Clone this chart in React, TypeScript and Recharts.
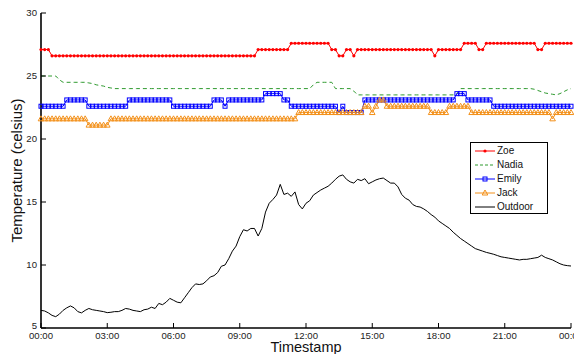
import { LineChart, Line, XAxis, YAxis, Legend, Label } from 'recharts';

// one reading every 10 minutes, 00:00 .. 24:00 (145 points)
const zoe = [
  27.1, 27.1, 27.1, 26.6, 26.6, 26.6, 26.6, 26.6, 26.6, 26.6, 26.6, 26.6,
  26.6, 26.6, 26.6, 26.6, 26.6, 26.6, 26.6, 26.6, 26.6, 26.6, 26.6, 26.6,
  26.6, 26.6, 26.6, 26.6, 26.6, 26.6, 26.6, 26.6, 26.6, 26.6, 26.6, 26.6,
  26.6, 26.6, 26.6, 26.6, 26.6, 26.6, 26.6, 26.6, 26.6, 26.6, 26.6, 26.6,
  26.6, 26.6, 26.6, 26.6, 26.6, 26.6, 26.6, 26.6, 26.6, 26.6, 26.6, 27.1,
  27.1, 27.1, 27.1, 27.1, 27.1, 27.1, 27.1, 27.1, 27.6, 27.6, 27.6, 27.6,
  27.6, 27.6, 27.6, 27.6, 27.6, 27.6, 27.6, 27.1, 27.1, 26.6, 26.6, 27.1,
  27.1, 26.6, 27.1, 27.1, 27.1, 27.1, 27.1, 27.1, 27.1, 27.1, 27.1, 27.1,
  27.1, 27.1, 27.1, 27.1, 27.1, 27.1, 27.1, 27.1, 27.1, 27.1, 27.1, 26.6,
  27.1, 27.1, 27.1, 27.1, 27.1, 27.1, 27.1, 27.6, 27.6, 27.6, 27.6, 27.1,
  27.1, 27.6, 27.6, 27.6, 27.6, 27.6, 27.6, 27.6, 27.6, 27.6, 27.6, 27.6,
  27.6, 27.6, 27.6, 27.1, 27.1, 27.6, 27.6, 27.6, 27.6, 27.6, 27.6, 27.6,
  27.6,
];

const nadia = [
  25.0, 25.0, 25.0, 25.0, 25.0, 24.7, 24.5, 24.5, 24.5, 24.5, 24.5, 24.5,
  24.5, 24.45, 24.4, 24.3, 24.25, 24.2, 24.1, 24.05, 24.0, 24.0, 24.0, 24.0,
  24.0, 24.0, 24.0, 24.0, 24.0, 24.0, 24.0, 24.0, 24.0, 24.0, 24.0, 24.0,
  24.0, 24.0, 24.0, 24.0, 24.0, 24.0, 24.0, 24.0, 24.0, 24.0, 24.0, 24.0,
  24.0, 24.0, 24.0, 24.0, 24.0, 24.0, 24.0, 24.0, 24.0, 24.0, 24.0, 24.0,
  24.0, 24.0, 24.0, 24.0, 24.0, 24.0, 24.0, 24.0, 24.0, 24.0, 24.0, 24.0,
  24.0, 24.0, 24.3, 24.5, 24.5, 24.5, 24.5, 24.5, 24.0, 24.0, 24.0, 24.0,
  24.0, 23.8, 23.5, 23.5, 23.5, 23.5, 23.5, 23.5, 23.5, 23.5, 23.5, 23.5,
  23.5, 23.5, 23.5, 23.5, 23.5, 23.5, 23.5, 23.5, 23.5, 23.5, 23.5, 23.5,
  23.5, 23.5, 23.5, 23.5, 23.5, 23.6, 24.0, 24.0, 24.0, 24.0, 24.0, 24.0,
  24.0, 24.0, 24.0, 24.0, 24.0, 24.0, 24.0, 24.0, 24.0, 24.0, 24.0, 24.0,
  24.0, 24.0, 23.95, 23.85, 23.75, 23.65, 23.6, 23.55, 23.5, 23.6, 23.75, 23.9,
  24.0,
];

const emily = [
  22.6, 22.6, 22.6, 22.6, 22.6, 22.6, 22.6, 23.1, 23.1, 23.1, 23.1, 23.1,
  23.1, 22.6, 22.6, 22.6, 22.6, 22.6, 22.6, 22.6, 22.6, 22.6, 22.6, 22.6,
  23.1, 23.1, 23.1, 23.1, 23.1, 23.1, 23.1, 23.1, 23.1, 23.1, 23.1, 23.1,
  22.6, 22.6, 22.6, 22.6, 22.6, 22.6, 22.6, 22.6, 22.6, 22.6, 22.6, 23.1,
  23.1, 23.1, 22.6, 23.1, 23.1, 23.1, 23.1, 23.1, 23.1, 23.1, 23.1, 23.1,
  23.1, 23.6, 23.6, 23.6, 23.6, 23.6, 23.1, 23.1, 22.6, 22.6, 22.6, 22.6,
  22.6, 22.6, 22.6, 22.6, 22.6, 22.6, 22.6, 22.6, 22.6, 22.1, 22.6, 22.1,
  22.1, 22.1, 22.1, 22.1, 23.1, 23.1, 23.1, 23.1, 23.1, 23.1, 23.1, 23.1,
  23.1, 23.1, 23.1, 23.1, 23.1, 23.1, 23.1, 23.1, 23.1, 23.1, 23.1, 23.1,
  23.1, 23.1, 23.1, 23.1, 23.1, 23.6, 23.6, 23.6, 23.1, 23.1, 23.1, 23.1,
  23.1, 23.1, 23.1, 22.6, 22.6, 22.6, 22.6, 22.6, 22.6, 22.6, 22.6, 22.6,
  22.6, 22.6, 22.6, 22.6, 22.6, 22.6, 22.6, 22.6, 22.6, 22.6, 22.6, 22.6,
  22.6,
];

const jack = [
  21.6, 21.6, 21.6, 21.6, 21.6, 21.6, 21.6, 21.6, 21.6, 21.6, 21.6, 21.6,
  21.6, 21.1, 21.1, 21.1, 21.1, 21.1, 21.1, 21.6, 21.6, 21.6, 21.6, 21.6,
  21.6, 21.6, 21.6, 21.6, 21.6, 21.6, 21.6, 21.6, 21.6, 21.6, 21.6, 21.6,
  21.6, 21.6, 21.6, 21.6, 21.6, 21.6, 21.6, 21.6, 21.6, 21.6, 21.6, 21.6,
  21.6, 21.6, 21.6, 21.6, 21.6, 21.6, 21.6, 21.6, 21.6, 21.6, 21.6, 21.6,
  21.6, 21.6, 21.6, 21.6, 21.6, 21.6, 21.6, 21.6, 21.6, 21.6, 22.1, 22.1,
  22.1, 22.1, 22.1, 22.1, 22.1, 22.1, 22.1, 22.1, 22.1, 22.1, 22.1, 22.1,
  22.1, 22.1, 22.1, 22.1, 22.6, 22.6, 22.1, 22.6, 23.1, 23.1, 22.6, 22.6,
  22.6, 22.6, 22.6, 22.6, 22.6, 22.6, 22.6, 22.6, 22.6, 22.6, 22.1, 22.1,
  22.1, 22.1, 22.1, 22.6, 22.6, 22.6, 22.6, 22.6, 22.6, 22.1, 22.1, 22.1,
  22.1, 22.1, 22.1, 22.1, 22.1, 22.1, 22.1, 22.1, 22.1, 22.1, 22.1, 22.1,
  22.1, 22.1, 22.1, 22.1, 22.1, 22.1, 22.1, 21.6, 22.1, 22.1, 22.1, 22.1,
  22.1,
];

const outdoor = [
  6.4, 6.35, 6.2, 6.0, 5.9, 6.1, 6.4, 6.6, 6.75, 6.6, 6.3, 6.2,
  6.4, 6.55, 6.45, 6.4, 6.35, 6.3, 6.22, 6.25, 6.3, 6.3, 6.4, 6.55,
  6.5, 6.4, 6.35, 6.3, 6.45, 6.5, 6.65, 6.55, 6.95, 6.85, 7.05, 7.35,
  7.2, 7.05, 7.0, 7.4, 7.8, 8.2, 8.5, 8.45, 8.5, 8.75, 9.05, 9.15,
  9.4, 9.9, 10.0, 10.5, 11.1, 11.5, 12.25, 12.8, 12.7, 12.9, 12.9, 12.3,
  12.9, 14.2, 14.9, 15.2, 15.55, 16.4, 15.6, 15.7, 15.45, 15.8, 14.8, 14.45,
  14.9, 15.1, 15.55, 15.75, 15.95, 16.1, 16.25, 16.5, 16.8, 17.05, 17.15, 16.8,
  16.6, 16.5, 16.8, 16.7, 16.85, 16.45, 16.6, 16.75, 16.85, 16.9, 16.7, 16.5,
  16.5, 16.2, 15.6, 15.3, 15.15, 14.8, 14.65, 14.6, 14.45, 14.25, 14.0, 13.8,
  13.5, 13.3, 13.1, 12.9, 12.6, 12.35, 12.1, 11.9, 11.7, 11.5, 11.3, 11.2,
  11.1, 11.0, 10.93, 10.85, 10.75, 10.65, 10.6, 10.55, 10.5, 10.45, 10.4, 10.45,
  10.45, 10.5, 10.55, 10.6, 10.78, 10.6, 10.5, 10.4, 10.25, 10.1, 10.0, 9.95,
  9.92,
];

const xTicks = [0, 180, 360, 540, 720, 900, 1080, 1260, 1440];
const xTickLabels = ['00:00', '03:00', '06:00', '09:00', '12:00', '15:00', '18:00', '21:00', '00:00'];
const yTicks = [5, 10, 15, 20, 25, 30];

const data = zoe.map((v, i) => ({
  t: i * 10,
  zoe: v,
  nadia: nadia[i],
  emily: emily[i],
  jack: jack[i],
  outdoor: outdoor[i],
}));

const FONT = '"Liberation Sans", Arial, Helvetica, sans-serif';
const RED = '#ff0000';
const GREEN = '#2f9a2f';
const BLUE = '#0000ff';
const ORANGE = '#f39019';

const BottomTick = ({ x, y, index }: any) => (
  <g>
    <line x1={x} x2={x} y1={y} y2={y - 5} stroke='#000' />
    <text x={x} y={y + 10.5} textAnchor='middle' fontSize={9.6} fontFamily={FONT} fill='#222'>
      {xTickLabels[index]}
    </text>
  </g>
);

const TopTick = ({ x, y }: any) => <line x1={x} x2={x} y1={y} y2={y + 5} stroke='#000' />;

const LeftTick = ({ x, y, payload }: any) => (
  <g>
    <line x1={x} x2={x + 5} y1={y} y2={y} stroke='#000' />
    <text
      x={x - 4}
      y={payload.value === 5 ? y - 2.5 : y}
      dy='0.36em'
      textAnchor='end'
      fontSize={9.6}
      fontFamily={FONT}
      fill='#222'
    >
      {payload.value}
    </text>
  </g>
);

const RightTick = ({ x, y }: any) => <line x1={x} x2={x - 5} y1={y} y2={y} stroke='#000' />;

const zoeDot = (p: any) => <circle key={'z' + p.index} cx={p.cx} cy={p.cy} r={1.6} fill={RED} />;
const emilyDot = (p: any) => (
  <rect key={'e' + p.index} x={p.cx - 2} y={p.cy - 2} width={4} height={4} fill='none' stroke={BLUE} strokeWidth={1} />
);
const jackDot = (p: any) => (
  <path
    key={'j' + p.index}
    d={`M${p.cx},${p.cy - 3}L${p.cx + 2.8},${p.cy + 2}L${p.cx - 2.8},${p.cy + 2}Z`}
    fill='none'
    stroke={ORANGE}
    strokeWidth={1}
  />
);

const legendItems = [
  { name: 'Zoe', color: RED, marker: 'dot' },
  { name: 'Nadia', color: GREEN, marker: 'dash' },
  { name: 'Emily', color: BLUE, marker: 'square' },
  { name: 'Jack', color: ORANGE, marker: 'triangle' },
  { name: 'Outdoor', color: '#000', marker: 'none' },
];

const LegendBox = () => (
  <div
    style={{
      border: '1px solid #000',
      background: '#fff',
      width: 78,
      height: 72,
      boxSizing: 'border-box',
      fontFamily: FONT,
      fontSize: 10,
      color: '#111',
      paddingTop: 0.5,
    }}
  >
    {legendItems.map((it) => (
      <div key={it.name} style={{ display: 'flex', alignItems: 'center', height: 14.1 }}>
        <svg width={26} height={10}>
          <line
            x1={4}
            x2={24}
            y1={5}
            y2={5}
            stroke={it.color}
            strokeWidth={1}
            strokeDasharray={it.marker === 'dash' ? '3 2' : undefined}
          />
          {it.marker === 'dot' && <circle cx={14} cy={5} r={1.6} fill={it.color} />}
          {it.marker === 'square' && <rect x={12} y={3} width={4} height={4} fill='none' stroke={it.color} />}
          {it.marker === 'triangle' && <path d='M14,2L16.8,7L11.2,7Z' fill='none' stroke={it.color} />}
        </svg>
        <span style={{ lineHeight: '10px' }}>{it.name}</span>
      </div>
    ))}
  </div>
);

export default function App() {
  return (
    <div style={{ width: 574, height: 346, fontFamily: FONT }}>
      <LineChart width={574} height={346} data={data} margin={{ top: 5, right: 11, bottom: 0, left: 0 }}>
        <XAxis
          dataKey='t'
          type='number'
          domain={[0, 1440]}
          ticks={xTicks}
          height={26}
          tickSize={0}
          tickMargin={0}
          tick={<BottomTick />}
          axisLine={{ stroke: '#000', strokeWidth: 1.6 }}
          tickLine={false}
          interval={0}
        >
          <Label
            content={() => (
              <text x={298} y={344} textAnchor='middle' fontSize={14.5} fontFamily={FONT} fill='#111'>
                Timestamp
              </text>
            )}
          />
        </XAxis>
        <XAxis
          xAxisId='top'
          dataKey='t'
          type='number'
          orientation='top'
          domain={[0, 1440]}
          allowDataOverflow
          ticks={xTicks}
          height={0}
          tickSize={0}
          tickMargin={0}
          tick={<TopTick />}
          axisLine={{ stroke: '#111', strokeWidth: 1 }}
          tickLine={false}
          interval={0}
        />
        <YAxis
          type='number'
          domain={[5, 30]}
          ticks={yTicks}
          width={33}
          tickSize={0}
          tickMargin={0}
          tick={<LeftTick />}
          axisLine={{ stroke: '#000', strokeWidth: 1.6 }}
          tickLine={false}
          interval={0}
        >
          <Label
            content={() => (
              <text
                x={14}
                y={162.5}
                transform='rotate(-90 14 162.5)'
                textAnchor='middle'
                fontSize={15}
                fontFamily={FONT}
                fill='#111'
              >
                Temperature (celsius)
              </text>
            )}
          />
        </YAxis>
        <YAxis
          yAxisId='right'
          orientation='right'
          type='number'
          domain={[5, 30]}
          allowDataOverflow
          ticks={yTicks}
          width={0}
          tickSize={0}
          tickMargin={0}
          tick={<RightTick />}
          axisLine={{ stroke: '#111', strokeWidth: 1 }}
          tickLine={false}
          interval={0}
        />
        <Legend
          layout='vertical'
          align='center'
          verticalAlign='middle'
          wrapperStyle={{ left: 462, top: 134, width: 78, height: 72 }}
          content={() => <LegendBox />}
        />
        <Line dataKey='zoe' stroke={RED} strokeWidth={1} dot={zoeDot} isAnimationActive={false} />
        <Line
          dataKey='nadia'
          stroke={GREEN}
          strokeWidth={1}
          strokeDasharray='4 3'
          dot={false}
          isAnimationActive={false}
        />
        <Line dataKey='emily' stroke={BLUE} strokeWidth={1} dot={emilyDot} isAnimationActive={false} />
        <Line dataKey='jack' stroke={ORANGE} strokeWidth={1} dot={jackDot} isAnimationActive={false} />
        <Line dataKey='outdoor' stroke='#000' strokeWidth={1} dot={false} isAnimationActive={false} />
      </LineChart>
    </div>
  );
}
